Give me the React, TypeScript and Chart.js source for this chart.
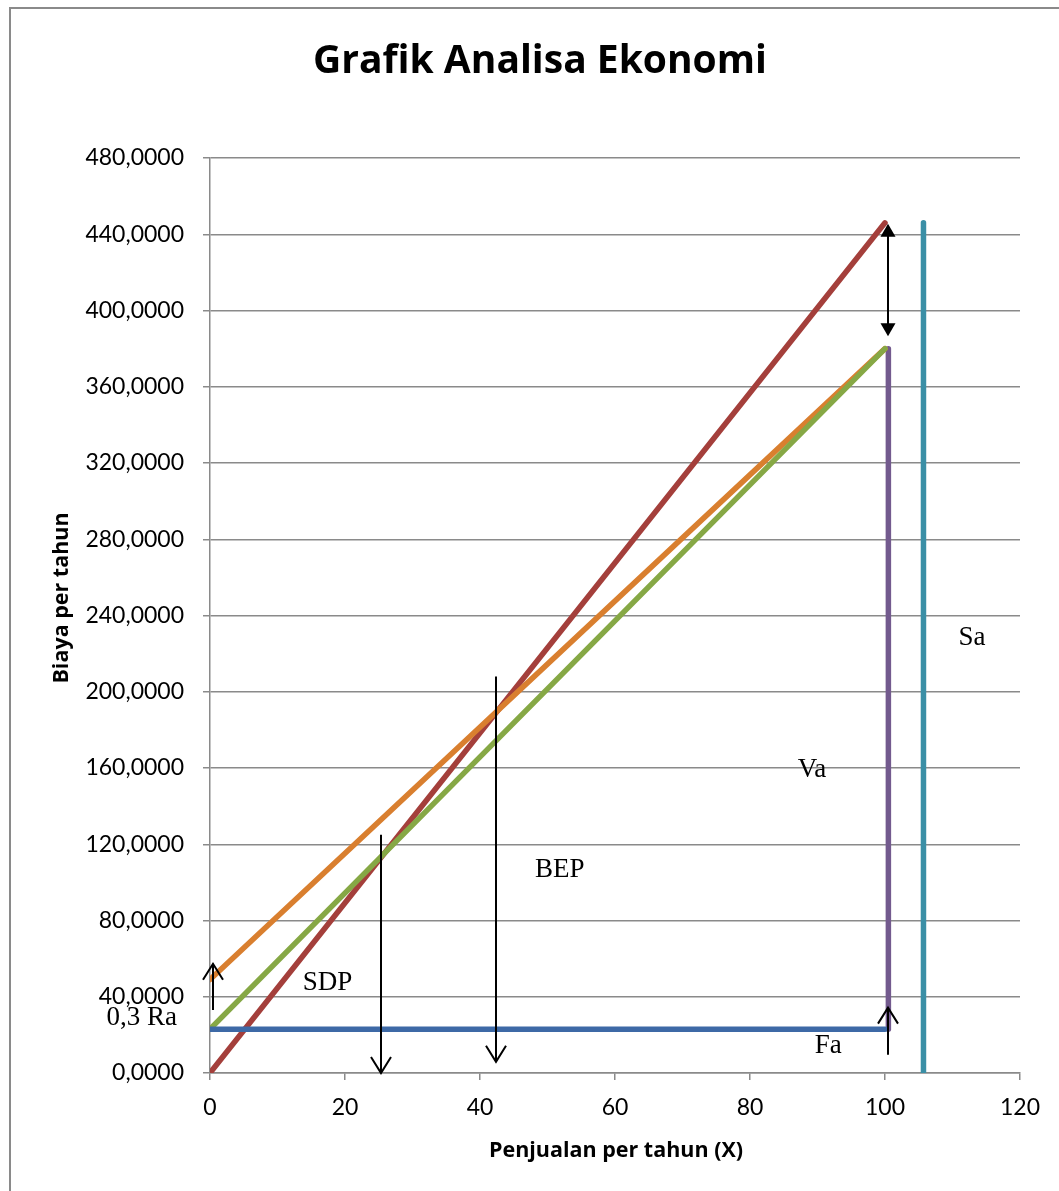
import React, { useEffect, useRef } from "react";
import { Chart, registerables } from "chart.js";
Chart.register(...registerables);

// ---- data ----
const chartTitle = "Grafik Analisa Ekonomi";
const xAxisTitle = "Penjualan per tahun (X)";
const yAxisTitle = "Biaya per tahun";
const yTickValues = [0, 40, 80, 120, 160, 200, 240, 280, 320, 360, 400, 440, 480];
const yTickLabels = ["0,0000", "40,0000", "80,0000", "120,0000", "160,0000", "200,0000", "240,0000", "280,0000", "320,0000", "360,0000", "400,0000", "440,0000", "480,0000"];
const xTickValues = [0, 20, 40, 60, 80, 100, 120];

const faX = [0, 100];
const faY = [23, 23];
const totalCostX = [0, 100];
const totalCostY = [23, 380];
const costRaX = [0, 100];
const costRaY = [49, 380];
const salesX = [0, 100];
const salesY = [0, 446];
const vaX = [100.5, 100.5];
const vaY = [23, 380];
const saX = [105.7, 105.7];
const saY = [0, 446];

// arrows: [x, yFrom, yTo(tip)]
const openArrowX = [0.45, 25.3, 42.3, 100.5];
const openArrowFrom = [33, 125, 208, 9.6];
const openArrowTo = [57.3, 0, 5.9, 34.3];
const doubleArrowX = [100.5];
const doubleArrowTop = [445.5];
const doubleArrowBottom = [386.5];

// annotation labels
const noteText = ["Sa", "Va", "BEP", "SDP", "0,3 Ra", "Fa"];
const noteX = [112.9, 89.2, 51.8, 17.4, -10.1, 91.6];
const noteY = [228.3, 159.1, 106.6, 47.4, 29.0, 14.3];

const pts = (xs: number[], ys: number[]) => xs.map((x, i) => ({ x, y: ys[i] }));

const SANS = "Lato, 'Open Sans', sans-serif";
const TITLE_SANS = "'Open Sans', Lato, sans-serif";

export default function App() {
  const ref = useRef<HTMLCanvasElement | null>(null);
  useEffect(() => {
    const canvas = ref.current!;
    const extras = {
      id: "extras",
      beforeDraw(chart: any) {
        const ctx = chart.ctx;
        ctx.save();
        ctx.fillStyle = "#fff";
        ctx.fillRect(0, 0, chart.width, chart.height);
        ctx.restore();
      },
      afterDatasetsDraw(chart: any) {
        const ctx = chart.ctx;
        const xs = chart.scales.x;
        const ys = chart.scales.y;
        ctx.save();
        ctx.strokeStyle = "#000";
        ctx.fillStyle = "#000";
        ctx.lineWidth = 2;
        ctx.lineCap = "butt";
        // open arrows
        openArrowX.forEach((xv, i) => {
          const px = Math.round(xs.getPixelForValue(xv));
          const y0 = ys.getPixelForValue(openArrowFrom[i]);
          const y1 = ys.getPixelForValue(openArrowTo[i]);
          const dir = y1 > y0 ? 1 : -1;
          ctx.beginPath();
          ctx.moveTo(px, y0);
          ctx.lineTo(px, y1);
          ctx.stroke();
          ctx.beginPath();
          ctx.moveTo(px - 10, y1 - dir * 16);
          ctx.lineTo(px, y1);
          ctx.lineTo(px + 10, y1 - dir * 16);
          ctx.stroke();
        });
        // double arrow with filled heads
        doubleArrowX.forEach((xv, i) => {
          const px = Math.round(xs.getPixelForValue(xv));
          const yt = ys.getPixelForValue(doubleArrowTop[i]);
          const yb = ys.getPixelForValue(doubleArrowBottom[i]);
          ctx.beginPath();
          ctx.moveTo(px, yt + 10);
          ctx.lineTo(px, yb - 10);
          ctx.stroke();
          ctx.beginPath();
          ctx.moveTo(px, yt);
          ctx.lineTo(px - 7.5, yt + 13);
          ctx.lineTo(px + 7.5, yt + 13);
          ctx.closePath();
          ctx.fill();
          ctx.beginPath();
          ctx.moveTo(px, yb);
          ctx.lineTo(px - 7.5, yb - 13);
          ctx.lineTo(px + 7.5, yb - 13);
          ctx.closePath();
          ctx.fill();
        });
        // notes
        ctx.font = "27px 'Liberation Serif', 'Times New Roman', serif";
        ctx.textAlign = "center";
        ctx.textBaseline = "middle";
        noteText.forEach((t, i) => {
          ctx.fillText(t, xs.getPixelForValue(noteX[i]), ys.getPixelForValue(noteY[i]));
        });
        // title
        ctx.font = `bold 39px ${TITLE_SANS}`;
        ctx.fillText(chartTitle, 540, 62);
        // axis titles
        ctx.font = `bold 21.5px ${TITLE_SANS}`;
        ctx.fillText(xAxisTitle, 616, 1151);
        ctx.save();
        ctx.translate(62, 598);
        ctx.rotate(-Math.PI / 2);
        ctx.fillText(yAxisTitle, 0, 0);
        ctx.restore();
        // outer border
        ctx.strokeStyle = "#8a8a8a";
        ctx.lineWidth = 2;
        ctx.strokeRect(10, 8, 1200, 1300);
        ctx.restore();
      },
    };

    const lineDs = (label: string, data: any[], color: string) => ({
      label,
      data,
      borderColor: color,
      backgroundColor: color,
      borderWidth: 5.5,
      borderCapStyle: "round",
      pointRadius: 0,
      showLine: true,
      fill: false,
    });

    const chart = new Chart(canvas, {
      type: "scatter",
      data: {
        datasets: [
          lineDs("Fa", pts(faX, faY), "#3D69A6"),
          lineDs("Fa + Va", pts(totalCostX, totalCostY), "#86A845"),
          lineDs("Fa + Va + 0,3 Ra", pts(costRaX, costRaY), "#D97F2F"),
          lineDs("Sa", pts(salesX, salesY), "#A43F3B"),
          lineDs("Va", pts(vaX, vaY), "#735A8E"),
          lineDs("Sa (vertikal)", pts(saX, saY), "#3A8FA6"),
        ] as any,
      },
      options: {
        animation: false,
        responsive: false,
        devicePixelRatio: 1,
        layout: { padding: { top: 158, right: 39, left: 0, bottom: 0 } },
        plugins: { legend: { display: false }, title: { display: false }, tooltip: { enabled: false } },
        scales: {
          x: {
            type: "linear",
            min: 0,
            max: 120,
            afterBuildTicks: (s: any) => {
              s.ticks = xTickValues.map((v) => ({ value: v }));
            },
            afterFit: (s: any) => {
              s.height = 1191 - 1073;
            },
            grid: { drawOnChartArea: false, drawTicks: true, tickLength: 7, color: "#8a8a8a", lineWidth: 1.5 },
            border: { color: "#8a8a8a", width: 1.5 },
            ticks: { color: "#000", font: { family: SANS, size: 23 }, padding: 14, maxRotation: 0 },
          },
          y: {
            type: "linear",
            min: 0,
            max: 480,
            afterBuildTicks: (s: any) => {
              s.ticks = yTickValues.map((v) => ({ value: v }));
            },
            afterFit: (s: any) => {
              s.width = 210;
            },
            grid: { drawTicks: true, tickLength: 7, color: "#8a8a8a", lineWidth: 1.5 },
            border: { color: "#8a8a8a", width: 1.5 },
            ticks: {
              color: "#000",
              font: { family: SANS, size: 23 },
              padding: 19,
              callback: (v: any) => {
                const i = yTickValues.indexOf(Number(v));
                return i >= 0 ? yTickLabels[i] : "";
              },
            },
          },
        },
      } as any,
      plugins: [extras],
    });
    return () => chart.destroy();
  }, []);
  return (
    <div style={{ position: "absolute", left: 0, top: 0, width: 1059, height: 1191, background: "#fff" }}>
      <canvas ref={ref} width={1059} height={1191} style={{ display: "block" }} />
    </div>
  );
}
